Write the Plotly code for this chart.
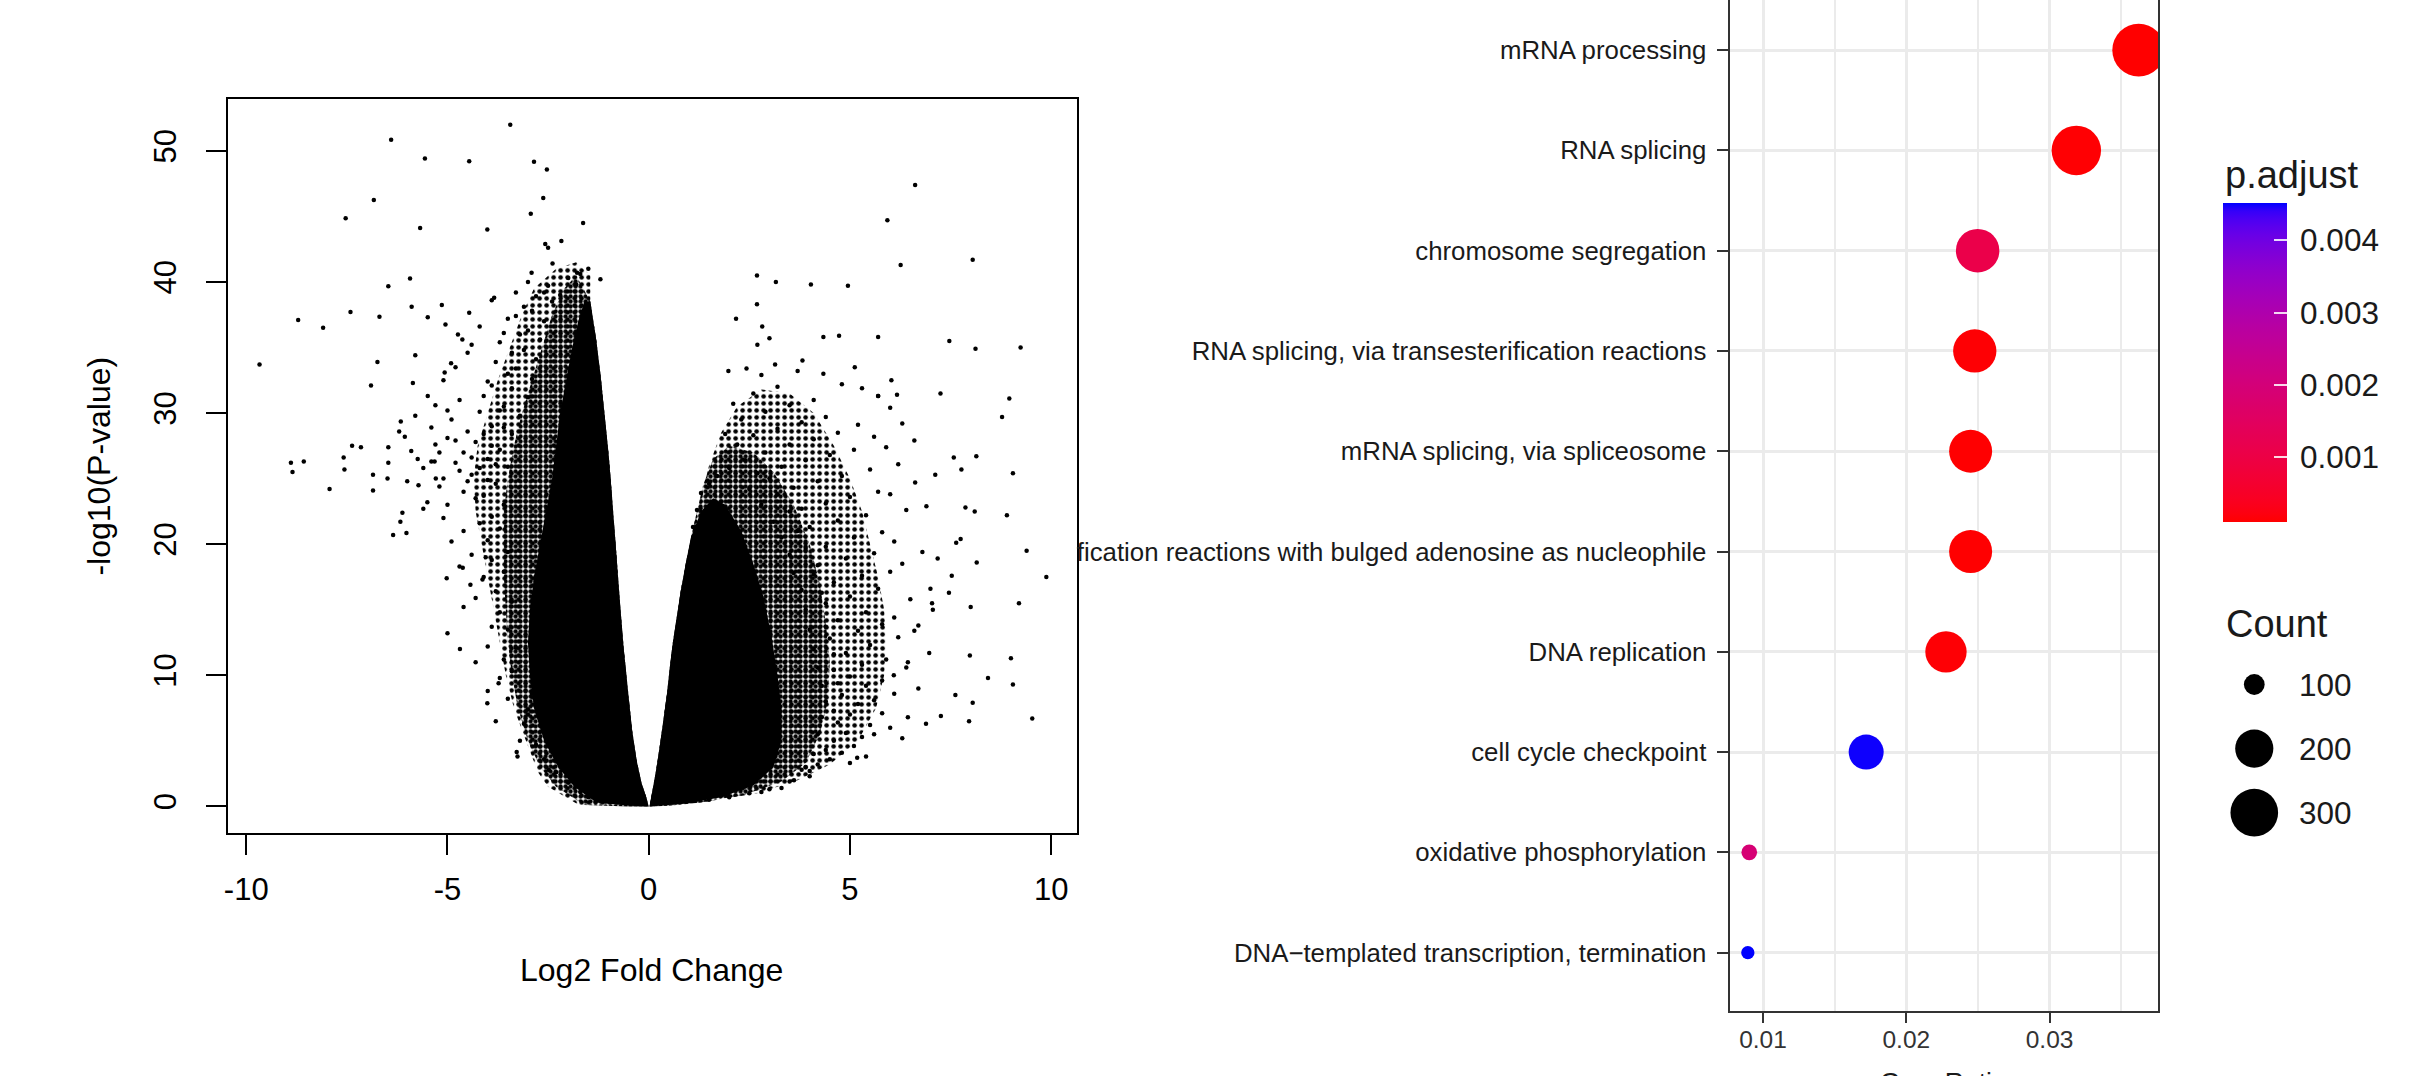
import numpy as np
import plotly.graph_objects as go

W, H = 2421, 1076

# ---------------- Volcano plot data ----------------
# isolated points, (log2FC, -log10 p)
left_outliers = [
    (-3.44, 51.98), (-6.40, 50.84), (-5.56, 49.41), (-4.46, 49.2), (-2.85, 49.16), (-2.53, 48.57),
    (-6.83, 46.25), (-2.62, 46.4), (-7.53, 44.86), (-2.93, 45.2), (-1.63, 44.5), (-5.68, 44.12),
    (-4.01, 44.0), (-2.17, 43.13), (-2.57, 42.9), (-2.50, 42.6), (-5.93, 40.27), (-6.47, 39.67),
    (-2.91, 40.7), (-2.39, 41.4), (-1.78, 40.7), (-8.71, 37.1), (-8.09, 36.5), (-7.41, 37.7),
    (-6.69, 37.35), (-5.89, 38.1), (-5.14, 38.24), (-5.49, 37.3), (-5.05, 36.76), (-4.74, 36.0),
    (-4.63, 35.6), (-4.46, 37.65), (-3.84, 38.8), (-9.67, 33.7), (-6.74, 33.9), (-5.80, 34.4),
    (-4.91, 33.8), (-5.07, 33.1), (-6.90, 32.1), (-5.86, 32.3), (-5.49, 31.3), (-5.00, 30.2),
    (-6.16, 29.35), (-6.47, 27.4), (-7.37, 27.5), (-7.15, 27.4), (-8.89, 26.2), (-8.57, 26.3),
    (-8.85, 25.5), (-7.58, 26.6), (-7.56, 25.7), (-7.93, 24.2), (-6.85, 25.3), (-6.85, 24.1),
    (-6.47, 26.2), (-6.49, 25.0), (-6.06, 28.2), (-5.74, 26.5), (-6.12, 22.4), (-6.17, 21.7),
    (-6.35, 20.7), (-6.02, 20.85), (-5.60, 22.7), (-5.72, 24.5), (-5.29, 25.0), (-5.32, 26.3),
    (-5.02, 17.4), (-4.62, 18.2), (-5.00, 13.2), (-4.69, 12.0), (-4.43, 16.9), (-4.13, 17.3),
    (-4.05, 19.0), (-3.73, 9.4), (-4.01, 7.86), (-3.28, 4.15), (-3.26, 3.8), (-2.48, 2.77),
    (-3.00, 7.0),
]
right_outliers = [
    (6.62, 47.4), (5.93, 44.7), (6.26, 41.3), (8.05, 41.7), (2.69, 40.5), (3.16, 40.0),
    (4.03, 39.8), (4.95, 39.7), (2.69, 38.3), (2.17, 37.2), (2.82, 36.6), (4.34, 35.8),
    (4.73, 35.9), (5.70, 35.8), (7.47, 35.5), (8.12, 34.9), (9.24, 35.0), (3.00, 35.7),
    (2.70, 35.2), (1.98, 33.2), (2.43, 33.4), (3.14, 33.7), (3.82, 34.0), (4.34, 33.0),
    (5.12, 33.5), (6.03, 32.5), (7.25, 31.5), (8.96, 31.1), (8.78, 29.7), (5.70, 31.3),
    (6.17, 31.4), (7.58, 26.6), (7.77, 25.7), (9.05, 25.4), (8.14, 26.7), (7.12, 25.3),
    (6.62, 24.7), (7.87, 22.8), (8.90, 22.2), (8.10, 22.5), (9.39, 19.5), (7.75, 20.4),
    (7.64, 20.1), (8.15, 18.6), (7.18, 18.9), (7.53, 17.6), (9.88, 17.5), (9.20, 15.5),
    (8.00, 15.2), (7.04, 15.5), (7.46, 16.3), (7.06, 15.0), (9.00, 11.3), (7.98, 11.5),
    (9.05, 9.3), (8.43, 9.8), (7.62, 8.5), (8.05, 7.9), (9.53, 6.7), (7.96, 6.5),
    (7.26, 6.9), (6.89, 6.3), (6.44, 6.8), (6.70, 9.0), (6.44, 11.0), (6.09, 10.0),
    (6.60, 13.4), (6.97, 11.7), (5.18, 3.7), (3.61, 2.0), (4.00, 2.7),
]
# medium-density points around the two dense arms
left_fringe = [
    (-3.2, 5.0), (-3.0, 7.4), (-2.9, 8.6), (-3.4, 10.3), (-3.3, 12.1), (-3.6, 11.2), (-3.5, 13.5),
    (-3.7, 14.8), (-3.4, 15.6), (-3.8, 16.4), (-3.6, 17.9), (-3.9, 18.8), (-3.5, 19.4), (-4.0, 20.3),
    (-3.7, 21.2), (-3.9, 22.1), (-4.2, 21.6), (-3.6, 23.0), (-4.1, 23.7), (-3.8, 24.6), (-4.4, 25.3),
    (-3.5, 25.9), (-4.0, 26.5), (-3.7, 27.2), (-4.3, 27.8), (-3.4, 28.4), (-3.9, 29.0), (-3.2, 29.8),
    (-3.6, 30.5), (-3.0, 31.2), (-3.4, 31.9), (-2.9, 32.6), (-3.3, 33.4), (-2.8, 34.1), (-3.1, 34.8),
    (-2.7, 35.6), (-3.0, 36.3), (-2.6, 37.0), (-2.9, 37.8), (-2.4, 38.5), (-2.6, 39.2), (-2.2, 39.0),
    (-2.0, 40.3), (-1.8, 39.8), (-1.7, 40.6), (-4.6, 24.0), (-4.8, 26.2), (-4.5, 28.6), (-4.2, 30.1),
    (-4.7, 31.0), (-4.0, 32.4), (-3.8, 33.9), (-4.4, 35.2), (-3.6, 36.1), (-3.3, 37.4), (-3.9, 38.6),
    (-5.2, 27.0), (-5.4, 28.9), (-4.9, 29.5), (-5.0, 23.0), (-4.6, 21.0), (-4.4, 19.2), (-4.1, 17.5),
    (-4.3, 15.9), (-3.9, 13.7), (-4.0, 12.2), (-3.7, 9.8), (-3.5, 8.2), (-3.1, 6.3), (-2.8, 4.7),
    (-2.6, 3.6), (-2.3, 2.6), (-2.0, 1.8), (-1.7, 1.1), (-1.5, 0.7), (-1.3, 0.5),
    (-5.6, 25.8), (-5.9, 27.1), (-5.3, 30.6), (-5.1, 32.5), (-4.8, 33.5), (-4.5, 34.6), (-4.2, 36.6),
    (-5.8, 29.8), (-6.2, 28.6), (-4.9, 20.2), (-4.7, 18.3), (-5.1, 22.0), (-4.3, 11.0), (-4.6, 15.2),
    (-5.2, 24.4), (-5.5, 23.2), (-6.0, 24.8), (-4.0, 8.8), (-3.8, 6.5), (-1.2, 40.2), (-1.5, 41.0),
    (-5.3, 27.6), (-5.0, 28.1), (-4.8, 27.9), (-4.6, 27.0), (-4.4, 26.6), (-4.2, 25.8), (-4.1, 28.4),
    (-3.9, 27.5), (-4.5, 24.8), (-4.7, 25.6), (-5.4, 26.3), (-5.1, 25.0), (-4.3, 23.5), (-4.0, 24.9),
    (-3.8, 26.1), (-3.6, 28.9), (-3.7, 30.2), (-4.1, 31.3), (-3.9, 32.1), (-3.5, 33.0), (-3.4, 34.6),
    (-3.7, 35.4), (-3.2, 36.0), (-3.5, 37.2), (-3.1, 38.1), (-2.8, 38.9), (-2.5, 39.7), (-3.3, 39.2),
    (-3.0, 40.0),
]
right_fringe = [
    (1.5, 0.5), (2.0, 0.7), (2.5, 1.0), (3.0, 1.3), (3.5, 1.9), (4.0, 2.3), (3.3, 1.4), (2.8, 1.1),
    (3.8, 2.8), (4.2, 3.2), (4.5, 3.6), (4.4, 4.3), (4.8, 4.1), (4.6, 5.0), (4.9, 5.6), (5.1, 4.6),
    (5.3, 5.3), (4.7, 6.4), (5.0, 7.0), (5.5, 6.2), (5.2, 7.8), (4.8, 8.5), (5.6, 8.1), (5.4, 9.2),
    (5.0, 9.9), (5.8, 9.6), (4.6, 10.4), (5.3, 10.8), (5.9, 11.2), (4.9, 11.7), (5.5, 12.3),
    (4.5, 12.8), (5.2, 13.4), (5.8, 13.9), (4.7, 14.2), (5.4, 14.8), (6.1, 14.4), (4.4, 15.5),
    (5.0, 16.0), (5.7, 16.6), (4.6, 17.1), (5.3, 17.6), (6.0, 17.9), (4.2, 18.4), (4.9, 18.9),
    (5.6, 19.3), (4.4, 19.8), (5.1, 20.5), (5.8, 20.9), (4.0, 21.3), (4.7, 21.8), (5.4, 22.2),
    (3.8, 22.7), (4.4, 23.1), (5.0, 23.6), (5.7, 24.0), (3.6, 24.3), (4.2, 24.8), (4.8, 25.2),
    (5.5, 25.7), (3.3, 25.9), (3.9, 26.4), (4.5, 26.8), (5.1, 27.2), (2.9, 27.0), (3.5, 27.6),
    (4.1, 28.0), (4.7, 28.5), (5.6, 28.2), (2.6, 28.3), (3.2, 28.8), (3.8, 29.3), (4.4, 29.7),
    (5.2, 29.1), (2.3, 29.5), (2.9, 30.1), (3.5, 30.6), (4.1, 31.0), (2.1, 30.7), (2.6, 31.5),
    (3.2, 32.0), (2.4, 26.4), (2.0, 25.8), (1.7, 25.2), (1.5, 24.6), (1.3, 23.9), (2.2, 27.6),
    (1.9, 28.4), (1.2, 22.6), (1.1, 21.3), (3.7, 33.2), (2.8, 32.9),
    (3.9, 3.0), (4.1, 4.0), (4.2, 5.5), (4.3, 6.8), (4.4, 8.0), (4.3, 9.2), (4.2, 10.6), (4.1, 12.0),
    (4.0, 13.5), (3.9, 15.0), (3.8, 16.5), (3.6, 17.8), (3.5, 19.2), (3.3, 20.5), (3.1, 21.7),
    (2.8, 23.0), (2.5, 24.2), (4.6, 7.3), (4.7, 9.4), (4.6, 11.6), (4.4, 13.7), (4.3, 16.3),
    (4.1, 17.7), (3.9, 19.7), (3.7, 21.0), (3.5, 22.5), (3.2, 23.8), (3.0, 25.0), (2.7, 25.4),
    (6.2, 12.9), (6.5, 15.8), (6.3, 18.5), (6.1, 20.2), (6.4, 22.6), (6.0, 23.8), (6.2, 26.1),
    (5.9, 27.4), (6.6, 27.9), (6.3, 29.2), (6.0, 30.4), (5.7, 31.3), (5.3, 31.9), (4.8, 32.2),
    (6.8, 19.4), (6.9, 22.9), (7.0, 16.6), (6.7, 13.8), (6.4, 10.6), (6.1, 8.6), (5.8, 7.1),
    (5.6, 5.5), (6.0, 6.0), (5.4, 3.8), (5.0, 3.3), (6.3, 5.2),
]
# outlines of the cloud zones: saturated core, dense fringe, sparse fringe
left_inner_edge = [
    (-1.45, 38.5), (-1.3, 35.5), (-1.2, 33.0), (-1.1, 30.0), (-1.0, 27.0), (-0.92, 24.0),
    (-0.85, 21.0), (-0.78, 18.0), (-0.7, 15.0), (-0.62, 12.0), (-0.52, 9.0), (-0.42, 6.0),
    (-0.3, 3.5), (-0.18, 1.8), (-0.05, 0.6), (0.0, 0.0),
]
core_left = [
    (-0.5, 0.05), (-1.3, 0.3), (-1.85, 1.5), (-2.25, 3.0), (-2.6, 5.0), (-2.85, 7.5), (-2.95, 10.0),
    (-3.0, 12.5), (-2.95, 15.0), (-2.85, 17.5), (-2.7, 20.0), (-2.55, 22.5), (-2.4, 25.0),
    (-2.3, 27.5), (-2.2, 30.0), (-2.05, 32.5), (-1.9, 35.0), (-1.75, 37.0), (-1.6, 38.5),
] + left_inner_edge
dense_left = [
    (-0.5, 0.0), (-1.6, 0.1), (-2.3, 1.5), (-2.7, 3.0), (-3.0, 5.0), (-3.25, 7.5), (-3.4, 10.0),
    (-3.5, 12.5), (-3.55, 15.0), (-3.6, 17.5), (-3.6, 20.0), (-3.6, 22.5), (-3.5, 25.0),
    (-3.35, 27.5), (-3.15, 30.0), (-2.9, 32.5), (-2.65, 35.0), (-2.4, 37.5), (-2.1, 39.5),
    (-1.8, 40.5),
] + left_inner_edge
sparse_left = [
    (-0.5, 0.0), (-1.7, 0.05), (-2.5, 1.5), (-2.75, 2.6), (-3.05, 5.0), (-3.35, 7.5), (-3.55, 10.0),
    (-3.7, 12.5), (-3.85, 15.0), (-4.0, 17.5), (-4.15, 20.0), (-4.3, 22.5), (-4.35, 25.0),
    (-4.25, 27.5), (-4.0, 30.0), (-3.75, 32.5), (-3.45, 35.0), (-3.15, 37.5), (-2.85, 39.5),
    (-2.3, 41.0), (-1.8, 41.5), (-1.45, 40.5),
] + left_inner_edge
right_inner_edge = [
    (0.02, 0.0), (0.08, 1.0), (0.17, 2.5), (0.27, 4.5), (0.36, 6.5), (0.45, 8.5), (0.52, 10.5),
    (0.6, 12.5), (0.7, 14.5), (0.8, 16.5), (0.92, 18.5), (1.05, 20.5),
]
core_right = right_inner_edge + [
    (1.3, 22.5), (1.6, 23.5), (1.9, 23.0), (2.3, 21.0), (2.6, 18.5), (2.85, 16.0), (3.05, 13.0),
    (3.2, 10.0), (3.3, 7.5), (3.3, 5.0), (3.1, 3.0), (2.6, 1.6), (1.8, 0.7), (0.9, 0.2),
]
dense_right = right_inner_edge + [
    (1.2, 22.5), (1.35, 24.5), (1.6, 26.5), (2.0, 27.5), (2.6, 27.0), (3.1, 25.5), (3.6, 23.0),
    (4.0, 20.0), (4.25, 17.0), (4.4, 14.0), (4.5, 11.0), (4.45, 8.0), (4.25, 5.5), (3.9, 3.3),
    (3.3, 1.9), (2.4, 0.9), (1.3, 0.3), (0.5, 0.05),
]
sparse_right = right_inner_edge + [
    (1.2, 22.5), (1.3, 23.5), (1.5, 26.0), (1.8, 28.5), (2.2, 30.5), (2.8, 31.8), (3.5, 31.5),
    (4.1, 30.0), (4.6, 27.5), (5.0, 25.0), (5.3, 22.5), (5.5, 20.0), (5.7, 17.5), (5.85, 15.0),
    (5.9, 12.5), (5.85, 10.0), (5.65, 7.5), (5.2, 5.0), (4.5, 3.2), (3.7, 2.0), (2.7, 1.0),
    (1.5, 0.4), (0.6, 0.05),
]
volcano_xticks = [-10, -5, 0, 5, 10]
volcano_yticks = [0, 10, 20, 30, 40, 50]

# ---------------- GO enrichment dotplot data ----------------
go_terms = [
    "mRNA processing",
    "RNA splicing",
    "chromosome segregation",
    "RNA splicing, via transesterification reactions",
    "mRNA splicing, via spliceosome",
    "fication reactions with bulged adenosine as nucleophile",
    "DNA replication",
    "cell cycle checkpoint",
    "oxidative phosphorylation",
    "DNA\u2212templated transcription, termination",
]
gene_ratio = [0.03622, 0.03187, 0.02498, 0.02478, 0.02449, 0.02449, 0.02277, 0.01720, 0.00904, 0.00894]
gene_count = [366, 322, 252, 250, 247, 247, 230, 174, 91, 90]
p_adjust = [0.00010, 0.00012, 0.00110, 0.00013, 0.00011, 0.00011, 0.00014, 0.00448, 0.00190, 0.00451]
ratio_ticks = [0.01, 0.02, 0.03]
ratio_minor = [0.015, 0.025, 0.035]
padj_ticks = [0.001, 0.002, 0.003, 0.004]
count_breaks = [100, 200, 300]

# ---------------- helpers ----------------
def _lin(c):
    return c / 12.92 if c <= 0.04045 else ((c + 0.055) / 1.055) ** 2.4

def _gam(c):
    c = min(max(c, 0.0), 1.0)
    return 12.92 * c if c <= 0.0031308 else 1.055 * c ** (1 / 2.4) - 0.055

WHITE = (0.95047, 1.0, 1.08883)

def rgb2lab(rgb):
    r, g, b = [_lin(v / 255.0) for v in rgb]
    X = 0.4124564 * r + 0.3575761 * g + 0.1804375 * b
    Y = 0.2126729 * r + 0.7151522 * g + 0.0721750 * b
    Z = 0.0193339 * r + 0.1191920 * g + 0.9503041 * b
    f = lambda t: t ** (1 / 3) if t > 0.008856 else 7.787 * t + 16 / 116
    fx, fy, fz = f(X / WHITE[0]), f(Y / WHITE[1]), f(Z / WHITE[2])
    return 116 * fy - 16, 500 * (fx - fy), 200 * (fy - fz)

def lab2rgb(L, a, b):
    fy = (L + 16) / 116
    fx = fy + a / 500
    fz = fy - b / 200
    finv = lambda t: t ** 3 if t ** 3 > 0.008856 else (t - 16 / 116) / 7.787
    X, Y, Z = finv(fx) * WHITE[0], finv(fy) * WHITE[1], finv(fz) * WHITE[2]
    r = 3.2404542 * X - 1.5371385 * Y - 0.4985314 * Z
    g = -0.9692660 * X + 1.8760108 * Y + 0.0415560 * Z
    bb = 0.0556434 * X - 0.2040259 * Y + 1.0572252 * Z
    return "rgb(%d,%d,%d)" % tuple(round(_gam(v) * 255) for v in (r, g, bb))

lab_lo, lab_hi = rgb2lab((255, 0, 0)), rgb2lab((0, 0, 255))
red_blue_lab = [[t, lab2rgb(*[lo + (hi - lo) * t for lo, hi in zip(lab_lo, lab_hi)])]
                for t in np.linspace(0, 1, 41)]

cmin_count, cmax_count = min(gene_count), max(gene_count)

def size_scale(c):
    return 13.3 + 39.4 * np.sqrt((np.asarray(c, float) - cmin_count) / (cmax_count - cmin_count))

FONT = "Liberation Sans, Arial, Helvetica, sans-serif"

fig = go.Figure()

# ---------------- volcano traces ----------------
def zone(poly, pattern=None):
    kw = dict(fillcolor="black") if pattern is None else dict(
        fillcolor="rgba(0,0,0,0)",
        fillpattern=dict(shape=".", fgcolor="black", size=pattern[0], solidity=pattern[1], fillmode="replace"))
    fig.add_trace(go.Scatter(
        x=[p[0] for p in poly], y=[p[1] for p in poly], mode="lines", fill="toself",
        line=dict(width=0, color="black"), hoverinfo="skip", showlegend=False,
        xaxis="x", yaxis="y", **kw))

zone(sparse_left, (7, 0.34))
zone(sparse_right, (7, 0.34))
zone(dense_left, (5, 0.6))
zone(dense_right, (5, 0.6))
zone(core_left)
zone(core_right)

pts = left_outliers + right_outliers + left_fringe + right_fringe
fig.add_trace(go.Scatter(
    x=[p[0] for p in pts], y=[p[1] for p in pts], mode="markers",
    marker=dict(color="black", size=4.5, opacity=1, line=dict(width=0)),
    showlegend=False, xaxis="x", yaxis="y"))

# ---------------- dotplot traces ----------------
n = len(go_terms)
y_idx = [n - 1 - i for i in range(n)]
fig.add_trace(go.Scatter(
    x=gene_ratio, y=y_idx, mode="markers", xaxis="x2", yaxis="y2", showlegend=False,
    text=go_terms,
    marker=dict(
        size=size_scale(gene_count), color=p_adjust, colorscale=red_blue_lab,
        cmin=min(p_adjust), cmax=max(p_adjust), opacity=1, line=dict(width=0),
        showscale=True,
        colorbar=dict(
            x=2222.3 / W, xanchor="left", xpad=0,
            y=(H - 203.3) / H, yanchor="top", ypad=0,
            len=319, lenmode="pixels", thickness=64, thicknessmode="pixels",
            outlinewidth=0, tickvals=padj_ticks, ticktext=["\u2009" + f"{v:.3f}" for v in padj_ticks],
            ticks="inside", ticklen=13, tickwidth=2, tickcolor="rgba(255,255,255,0.85)",
            tickfont=dict(family=FONT, size=31.5, color="#1a1a1a"),
        ),
    ),
))
# size legend
fig.add_trace(go.Scatter(
    x=[0.5] * len(count_breaks), y=list(range(len(count_breaks))), mode="markers",
    xaxis="x3", yaxis="y3", showlegend=False, cliponaxis=False, hoverinfo="skip",
    marker=dict(size=size_scale(count_breaks), color="black", opacity=1, line=dict(width=0))))

annotations = [
    dict(text="Log2 Fold Change", x=648.9 / W, y=(H - 970.4) / H, xref="paper", yref="paper",
         xanchor="center", yanchor="middle", showarrow=False, font=dict(family=FONT, size=32, color="black")),
    dict(text="-log10(P-value)", x=94.7 / W, y=(H - 466) / H, xref="paper", yref="paper",
         xanchor="center", yanchor="middle", textangle=-90, showarrow=False,
         font=dict(family=FONT, size=32, color="black")),
    dict(text="GeneRatio", x=1943 / W, y=(H - 1082) / H, xref="paper", yref="paper",
         xanchor="center", yanchor="middle", showarrow=False, font=dict(family=FONT, size=26.5, color="#1a1a1a")),
    dict(text="p.adjust", x=2223 / W, y=(H - 175) / H, xref="paper", yref="paper",
         xanchor="left", yanchor="middle", showarrow=False, font=dict(family=FONT, size=38, color="#1a1a1a")),
    dict(text="Count", x=2224 / W, y=(H - 624) / H, xref="paper", yref="paper",
         xanchor="left", yanchor="middle", showarrow=False, font=dict(family=FONT, size=38, color="#1a1a1a")),
]
for i, b in enumerate(count_breaks):
    annotations.append(dict(text=str(b), x=2296.7 / W, y=i, xref="paper", yref="y3",
                            xanchor="left", yanchor="middle", showarrow=False,
                            font=dict(family=FONT, size=31.5, color="#1a1a1a")))

fig.update_layout(
    width=W, height=H, autosize=False, margin=dict(l=0, r=0, t=0, b=0),
    paper_bgcolor="white", plot_bgcolor="white", font=dict(family=FONT),
    annotations=annotations,
    xaxis=dict(domain=[224.5 / W, 1074.7 / W], anchor="y", range=[-10.45, 10.64],
               tickvals=volcano_xticks, ticktext=[str(v) for v in volcano_xticks],
               ticks="outside", ticklen=20, tickwidth=2, tickcolor="black",
               showline=True, mirror=True, linecolor="black", linewidth=2,
               showgrid=False, zeroline=False, ticklabelstandoff=8,
               tickfont=dict(family=FONT, size=31, color="black")),
    yaxis=dict(domain=[(H - 833) / H, (H - 98.9) / H], anchor="x", range=[-2.03, 53.96],
               tickvals=volcano_yticks, ticktext=[str(v) for v in volcano_yticks], tickangle=-90,
               ticks="outside", ticklen=20, tickwidth=2, tickcolor="black",
               showline=True, mirror=True, linecolor="black", linewidth=2,
               showgrid=False, zeroline=False, ticklabelstandoff=18,
               tickfont=dict(family=FONT, size=31, color="black")),
    xaxis2=dict(domain=[1728.5 / W, 2158 / W], anchor="y2", range=[0.00767, 0.0376],
                tickvals=ratio_ticks, ticktext=[f"{v:.2f}" for v in ratio_ticks],
                ticks="outside", ticklen=10, tickwidth=2.2, tickcolor="#333333",
                showline=True, mirror=False, linecolor="#333333", linewidth=2.2,
                showgrid=True, gridcolor="#EBEBEB", gridwidth=2.7, zeroline=False,
                minor=dict(tickvals=ratio_minor, showgrid=True, gridcolor="#EBEBEB", gridwidth=1.8, ticks=""),
                ticklabelstandoff=-5,
                tickfont=dict(family=FONT, size=24.5, color="#333333")),
    yaxis2=dict(domain=[(H - 1011) / H, 1.0], anchor="x2", range=[-0.582, 9.5],
                tickvals=y_idx, ticktext=go_terms,
                ticks="outside", ticklen=11, tickwidth=2.2, tickcolor="#333333",
                showline=True, mirror=True, linecolor="#333333", linewidth=2.2,
                showgrid=True, gridcolor="#EBEBEB", gridwidth=2.7, zeroline=False,
                ticklabelstandoff=5,
                tickfont=dict(family=FONT, size=25.8, color="#1a1a1a")),
    xaxis3=dict(domain=[2222 / W, 2286 / W], anchor="y3", range=[0, 1], visible=False),
    yaxis3=dict(domain=[(H - 844.75) / H, (H - 652.45) / H], anchor="x3", range=[2.5, -0.5], visible=False),
)

fig.write_html("out.html", config={"displayModeBar": False},
               post_script="document.body.style.margin='0';document.body.style.overflow='hidden';")
